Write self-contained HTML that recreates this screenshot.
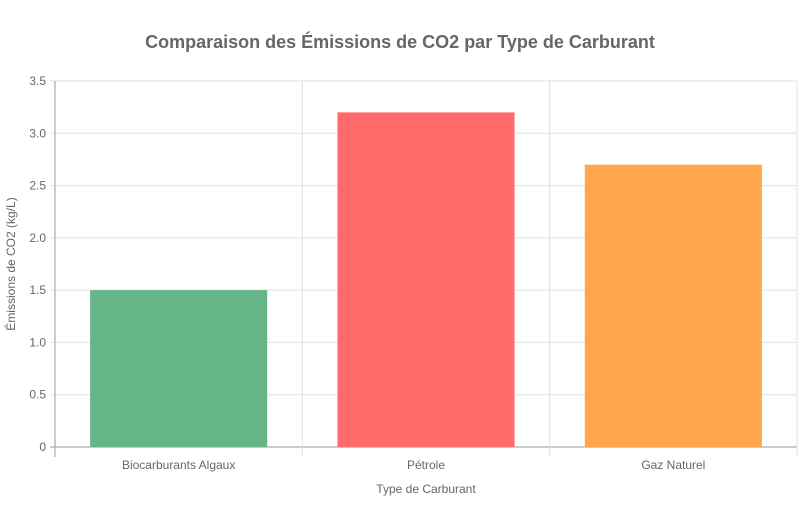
<!DOCTYPE html>
<html><head><meta charset="utf-8"><style>
body{margin:0;background:#fff;font-family:"Liberation Sans",sans-serif;}
svg text{font-family:"Liberation Sans",sans-serif;}
</style></head><body>
<svg id="c" width="800" height="500" xmlns="http://www.w3.org/2000/svg">
<text x="400" y="48" text-anchor="middle" font-size="18" font-weight="bold" fill="#666">Comparaison des Émissions de CO2 par Type de Carburant</text>
<g id="grid"></g><g id="bars"></g><g id="axes"></g>
<text x="426" y="493" text-anchor="middle" font-size="12" fill="#666">Type de Carburant</text>
<text transform="translate(15,264) rotate(-90)" text-anchor="middle" font-size="12" fill="#666">Émissions de CO2 (kg/L)</text>
</svg>
<script>
const categories=["Biocarburants Algaux","Pétrole","Gaz Naturel"];
const values=[1.5,3.2,2.7];
const colors=["#66b586","#ff6b6b","#ffa64d"];
const yTicks=[0,0.5,1,1.5,2,2.5,3,3.5];
const yTickLabels=["0","0.5","1.0","1.5","2.0","2.5","3.0","3.5"];
const L=55,R=797,T=81,B=447,yMax=3.5;
const NS="http://www.w3.org/2000/svg";
const y=v=>B-(v/yMax)*(B-T);
const bw=(R-L)/categories.length;
const x=i=>L+bw*i;
function mk(t,a,p){const e=document.createElementNS(NS,t);for(const k in a)e.setAttribute(k,a[k]);p.appendChild(e);return e;}
const g=document.getElementById('grid'),bg=document.getElementById('bars'),ag=document.getElementById('axes');
yTicks.forEach((v,i)=>{
 const l=mk('line',{x1:L-5,x2:R,y1:y(v),y2:y(v),stroke:i==0?'#999':'#e0e0e0','stroke-width':1},g);
 
 
 const t=mk('text',{x:L-9,y:y(v)+4,'text-anchor':'end','font-size':12,fill:'#666'},ag);
 t.textContent=yTickLabels[i];
 
 
});
for(let i=0;i<=categories.length;i++){
 const l=mk('line',{x1:x(i),x2:x(i),y1:T,y2:B+10,stroke:i==0?'#999':'#e0e0e0','stroke-width':1},g);
 
 
}
categories.forEach((c,i)=>{
 const w=bw*0.716;
 const r=mk('rect',{x:x(i)+(bw-w)/2,y:y(values[i]),width:w,height:B-y(values[i]),fill:colors[i]},bg);
 
 
 const t=mk('text',{x:x(i)+bw/2,y:469,'text-anchor':'middle','font-size':12,fill:'#666'},ag);
 t.textContent=c;
 
 
});
</script>
</body></html>
